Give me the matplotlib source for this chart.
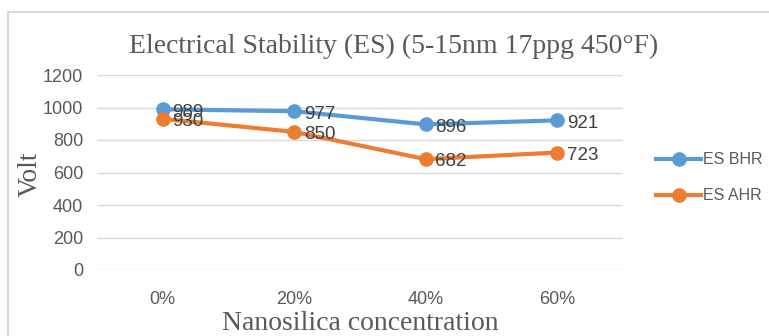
import matplotlib.pyplot as plt
from matplotlib.patches import Rectangle

# Electrical stability data
concentrations = ['0%', '20%', '40%', '60%']
es_bhr = [989, 977, 896, 921]
es_ahr = [930, 850, 682, 723]

blue = '#5B9BD5'
orange = '#ED7D31'
grey_text = '#595959'

fig = plt.figure(figsize=(7.69, 3.36), dpi=100)
ax = fig.add_axes([97 / 769, 1 - 270 / 336, (623 - 97) / 769, (270 - 75) / 336])

# outer chart border (cut off at right and bottom)
fig.patches.append(Rectangle((8 / 769, -0.1), 1.2, 1 - 12 / 336 + 0.1,
                             transform=fig.transFigure, fill=False,
                             edgecolor='#D9D9D9', linewidth=1.5))

x = range(len(concentrations))
ax.plot(x, es_bhr, color=blue, linewidth=3, marker='o', markersize=9.5, label='ES BHR')
ax.plot(x, es_ahr, color=orange, linewidth=3, marker='o', markersize=9.5, label='ES AHR')

for series in (es_bhr, es_ahr):
    for i, v in enumerate(series):
        ax.annotate(str(v), (i, v), xytext=(7, -2), textcoords='offset points',
                    va='center', ha='left', fontsize=13.5, color='#404040',
                    family='Liberation Sans')

ax.set_xlim(-0.5, 3.5)
ax.set_ylim(0, 1200)
ax.set_yticks(range(0, 1201, 200))
ax.set_xticks(list(x))
ax.set_xticklabels(concentrations)
ax.grid(axis='y', color='#D9D9D9', linewidth=1)
ax.set_axisbelow(True)
for s in ax.spines.values():
    s.set_visible(False)
ax.tick_params(length=0, labelsize=13, labelcolor=grey_text, pad=10)
for lab in ax.get_xticklabels() + ax.get_yticklabels():
    lab.set_family('Liberation Sans')
ax.tick_params(axis='x', pad=15)

fig.text(394 / 769, 1 - 46 / 336, 'Electrical Stability (ES) (5-15nm 17ppg 450°F)',
         ha='center', va='center', fontsize=20, family='Liberation Serif', color=grey_text)
fig.text(30 / 769, 1 - 174 / 336, 'Volt', rotation=90, ha='center', va='center',
         fontsize=20, family='Liberation Serif', color=grey_text)
fig.text(360 / 769, 1 - 323 / 336, 'Nanosilica concentration', ha='center', va='center',
         fontsize=20, family='Liberation Serif', color=grey_text)

leg = fig.legend(loc='upper left', bbox_to_anchor=(642 / 769, 1 - 138 / 336),
                 frameon=False, handlelength=2.8, labelspacing=1.3,
                 handletextpad=0.15, prop={'family': 'Liberation Sans', 'size': 11.5})
for t in leg.get_texts():
    t.set_color(grey_text)

fig.savefig('out.png', dpi=100)
